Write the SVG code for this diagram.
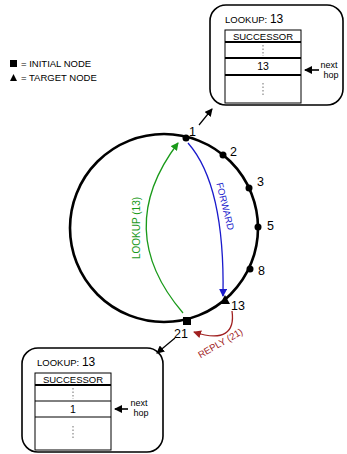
<svg xmlns="http://www.w3.org/2000/svg" width="347" height="454" viewBox="0 0 347 454">
<defs>
<style>
text{font-family:"Liberation Sans",Arial,sans-serif;fill:#000}
.box{fill:#fff;stroke:#000;stroke-width:1.6}
.tbl{fill:#fff;stroke:#000;stroke-width:1}
.thk{stroke:#000;stroke-width:2}
.thn{stroke:#000;stroke-width:1}
.dots{stroke:#999;stroke-width:1.4;stroke-dasharray:1.5 2}
.lbl{font-size:12.5px}
.sm{font-size:9px}
.lg{font-size:9.5px}
.tt{font-size:9.5px}
.ring{fill:none;stroke:#000;stroke-width:2.6}
.dot{fill:#000}
</style>
<marker id="ak" markerWidth="8" markerHeight="8" refX="7" refY="4" orient="auto" markerUnits="userSpaceOnUse"><path d="M0,0 L8,4 L0,8 Z" fill="#000"/></marker>
<marker id="ag" markerWidth="8" markerHeight="8" refX="7" refY="4" orient="auto" markerUnits="userSpaceOnUse"><path d="M0,0 L8,4 L0,8 Z" fill="#1a9a1a"/></marker>
<marker id="ab" markerWidth="8" markerHeight="8" refX="7" refY="4" orient="auto" markerUnits="userSpaceOnUse"><path d="M0,0 L8,4 L0,8 Z" fill="#1a1acc"/></marker>
<marker id="ar" markerWidth="8" markerHeight="8" refX="7" refY="4" orient="auto" markerUnits="userSpaceOnUse"><path d="M0,0 L8,4 L0,8 Z" fill="#a02020"/></marker>
</defs>
<rect width="347" height="454" fill="#fff"/>

<g id="legend">
<rect x="10" y="60" width="7" height="7" fill="#000"/>
<text x="21" y="67" class="lg">= INITIAL NODE</text>
<path d="M10,81 L13.5,74 L17,81 Z" fill="#000"/>
<text x="21" y="81" class="lg">= TARGET NODE</text>
</g>

<g id="table-top">
<rect x="210" y="5" width="133" height="100" rx="16" class="box"/>
<text x="225" y="23" font-size="9.5">LOOKUP: <tspan font-size="12">13</tspan></text>
<rect x="225" y="30" width="76" height="73" class="tbl"/>
<line x1="225" y1="42" x2="301" y2="42" class="thk"/>
<line x1="225" y1="58" x2="301" y2="58" class="thk"/>
<line x1="225" y1="75" x2="301" y2="75" class="thk"/>
<text x="263" y="39.5" class="tt" text-anchor="middle">SUCCESSOR</text>
<line x1="263" y1="45" x2="263" y2="56" class="dots"/>
<text x="263" y="70" font-size="10.5" text-anchor="middle">13</text>
<line x1="263" y1="83" x2="263" y2="95" class="dots"/>
<text x="329" y="68" class="sm" text-anchor="middle">next</text>
<text x="331" y="78" class="sm" text-anchor="middle">hop</text>
</g>

<g id="table-bottom">
<rect x="22" y="348" width="141" height="104" rx="16" class="box"/>
<text x="37" y="366" font-size="9.5">LOOKUP: <tspan font-size="12">13</tspan></text>
<rect x="35" y="373" width="76" height="77" class="tbl"/>
<line x1="35" y1="385" x2="111" y2="385" class="thk"/>
<line x1="35" y1="401" x2="111" y2="401" class="thn"/>
<line x1="35" y1="417" x2="111" y2="417" class="thn"/>
<text x="73" y="382.5" class="tt" text-anchor="middle">SUCCESSOR</text>
<line x1="73" y1="388" x2="73" y2="399" class="dots"/>
<text x="73" y="413" font-size="10.5" text-anchor="middle">1</text>
<line x1="73" y1="426" x2="73" y2="440" class="dots"/>
<text x="139" y="406" class="sm" text-anchor="middle">next</text>
<text x="141" y="416" class="sm" text-anchor="middle">hop</text>
</g>

<g id="ring">
<circle cx="164" cy="228" r="94" class="ring"/>
</g>

<g id="node-1"><circle cx="186" cy="138" r="3.5" class="dot"/><text x="189" y="136" class="lbl">1</text></g>
<g id="node-2"><circle cx="223" cy="155" r="3.5" class="dot"/><text x="230" y="156" class="lbl">2</text></g>
<g id="node-3"><circle cx="249" cy="188" r="3.5" class="dot"/><text x="257" y="186" class="lbl">3</text></g>
<g id="node-5"><circle cx="258" cy="227" r="3.5" class="dot"/><text x="267" y="230" class="lbl">5</text></g>
<g id="node-8"><circle cx="250" cy="269" r="3.5" class="dot"/><text x="258" y="275" class="lbl">8</text></g>
<g id="node-13"><path d="M220,304 L225,295 L230,304 Z" fill="#000"/><text x="231" y="310" class="lbl">13</text></g>
<g id="node-21"><rect x="183" y="317" width="8" height="8" fill="#000"/><text x="174" y="338" class="lbl">21</text></g>

<g id="connectors" fill="none">
<path d="M183,313 Q112,230 178,143" stroke="#1a9a1a" stroke-width="1.3" marker-end="url(#ag)"/>
<path d="M188,143 Q225,185 223,296" stroke="#1a1acc" stroke-width="1.3" marker-end="url(#ab)"/>
<path d="M232,311 C235,332 224,342 194,332" stroke="#a02020" stroke-width="1.3" marker-end="url(#ar)"/>
<path d="M199,125 L212,109" stroke="#000" stroke-width="1.2" marker-end="url(#ak)"/>
<path d="M175,338 L157,353" stroke="#000" stroke-width="1.2" marker-end="url(#ak)"/>
<path d="M319,70 L305,70" stroke="#000" stroke-width="1.6" marker-end="url(#ak)"/>
<path d="M128,409 L115,409" stroke="#000" stroke-width="1.6" marker-end="url(#ak)"/>
</g>

<g id="labels">
<text transform="translate(140,228) rotate(-90)" text-anchor="middle" font-size="10" style="fill:#1a9a1a">LOOKUP (13)</text>
<text transform="translate(222,207) rotate(76)" text-anchor="middle" font-size="9.5" style="fill:#1a1acc">FORWARD</text>
<text transform="translate(222,346) rotate(-30)" text-anchor="middle" font-size="9.5" style="fill:#a02020">REPLY (21)</text>
</g>
</svg>
